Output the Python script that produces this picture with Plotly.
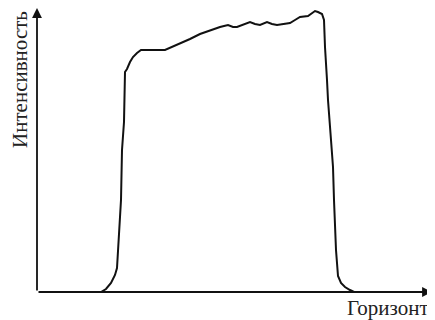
import plotly.graph_objects as go

# Горизонт (arbitrary units) and Интенсивность (arbitrary units)
horizon = [64, 69, 74, 78, 80, 81, 82, 84, 85, 87, 88, 90, 93, 96, 100, 104, 128, 135, 143, 153,
           163, 169, 176, 183, 191, 196, 200, 207, 213, 218, 223, 230, 235, 240, 246, 253, 258,
           263, 271, 275, 278, 281, 285, 287, 288, 290, 291, 294, 296, 297, 298, 299, 300, 301,
           304, 308, 313, 317]
intensity = [0, 3, 9, 17, 24, 39, 62, 92, 142, 170, 220, 223, 230, 235, 239, 242, 242, 245, 249, 253,
             258, 260, 263, 265, 267, 265, 265, 268, 270, 268, 267, 270, 268, 267, 268, 269, 272,
             275, 276, 279, 281, 280, 278, 272, 245, 212, 192, 152, 125, 92, 59, 42, 29, 16,
             9, 5, 2, 0]

x_label = "Горизонт"
y_label = "Интенсивность"

X_MAX = 395
Y_MAX = 284
SERIF = "Liberation Serif, DejaVu Serif, Times New Roman, serif"

fig = go.Figure()
fig.add_trace(go.Scatter(x=horizon, y=intensity, mode="lines",
                         line=dict(color="#111111", width=2), hoverinfo="skip"))

# axes with arrows
fig.add_annotation(x=X_MAX, y=0, ax=0, ay=0, xref="x", yref="y", axref="x", ayref="y",
                   showarrow=True, arrowhead=2, arrowsize=1.1, arrowwidth=1.8,
                   arrowcolor="#111111", text="")
fig.add_annotation(x=0, y=Y_MAX, ax=0, ay=0, xref="x", yref="y", axref="x", ayref="y",
                   showarrow=True, arrowhead=2, arrowsize=1.1, arrowwidth=1.8,
                   arrowcolor="#111111", text="")

fig.add_annotation(x=X_MAX - 44, y=0, xref="x", yref="y", yshift=-16, text=x_label,
                   showarrow=False, font=dict(family=SERIF, size=21, color="#222222"))
fig.add_annotation(x=0, y=Y_MAX - 72, xref="x", yref="y", xshift=-17, text=y_label, textangle=-90,
                   showarrow=False, font=dict(family=SERIF, size=21, color="#222222"))

fig.update_xaxes(range=[0, X_MAX], visible=False, fixedrange=True)
fig.update_yaxes(range=[0, Y_MAX], visible=False, fixedrange=True)
# page body has an 8px margin: size and margins compensate so the plot area lands at x 37..432, y 8..292
fig.update_layout(width=427, height=312, margin=dict(l=29, r=3, t=0, b=28),
                  paper_bgcolor="white", plot_bgcolor="white", showlegend=False,
                  font=dict(family=SERIF))

fig.write_html("out.html")
